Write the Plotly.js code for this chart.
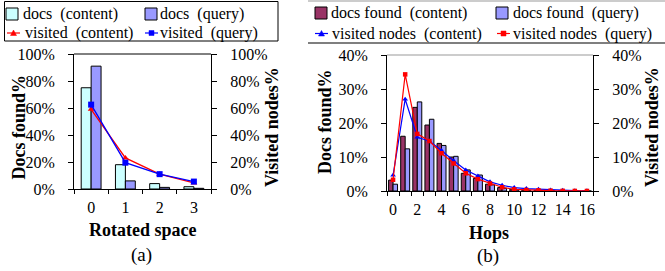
<!DOCTYPE html>
<html><head><meta charset="utf-8">
<script src="https://cdn.plot.ly/plotly-3.0.1.min.js"></script>
<style>html,body{margin:0;padding:0;background:#fff;} #chart{width:665px;height:271px;}</style>
</head><body><div id="chart"></div>
<script>
// ---------- Data: (a) rotated space ----------
const rotatedSpace = [0, 1, 2, 3];
const docsContentA = [75, 18, 4, 1.7];
const docsQueryA = [91, 6, 1.2, 0.5];
const visitedContentA = [59, 23, 11, 4.5];
const visitedQueryA = [62.5, 19.5, 11, 5.5];

// ---------- Data: (b) hops ----------
const hops = [0, 1, 2, 3, 4, 5, 6, 7, 8, 9, 10, 11, 12, 13, 14, 15, 16];
const docsFoundContentB = [3.2, 16.1, 24.6, 19.4, 14.0, 10.0, 5.2, 3.7, 2.0, 1.0, 0.5, 0.3, 0.2, 0.1, 0.05, 0.03, 0.02];
const docsFoundQueryB = [2.0, 12.4, 26.2, 21.1, 13.4, 10.2, 6.2, 4.7, 1.8, 0.8, 0.3, 0.2, 0.1, 0.05, 0.03, 0.02, 0.01];
const visitedNodesContentB = [4.6, 27.0, 15.8, 14.7, 11.9, 8.9, 6.2, 4.4, 2.7, 1.7, 1.0, 0.7, 0.5, 0.3, 0.2, 0.1, 0.05];
const visitedNodesQueryB = [3.3, 34.3, 16.8, 14.7, 11.1, 8.1, 5.2, 3.5, 2.2, 1.1, 0.5, 0.3, 0.2, 0.1, 0.05, 0.02, 0.01];
const hopTickVals = [0, 2, 4, 6, 8, 10, 12, 14, 16];

// ---------- Labels ----------
const namesA = ['docs\u00a0 (content)', 'docs\u00a0 (query)', 'visited\u00a0 (content)', 'visited\u00a0 (query)'];
const namesB = ['docs found\u00a0 (content)', 'docs found\u00a0 (query)', 'visited nodes\u00a0 (content)', 'visited nodes\u00a0 (query)'];

// ---------- Geometry helpers (pixels -> paper) ----------
const W = 665, H = 271, M = {l: 74, r: 72, t: 54, b: 80};
const GW = W - M.l - M.r, GH = H - M.t - M.b;
const px = p => (p - M.l) / GW;
const py = p => (H - M.b - p) / GH;
const FONT = 'Liberation Serif, "Times New Roman", serif';
const tickFont = {family: FONT, size: 16, color: '#000'};

const C = {cyan: '#ccffff', lav: '#9999ff', maroon: '#993366', red: '#ff0000', blue: '#0000ff'};
const edge = {color: '#000', width: 1};

const boundaries = arr => arr.map(v => v - 0.5).concat([arr[arr.length - 1] + 0.5]);

const traces = [
  {type: 'bar', name: namesA[0], x: rotatedSpace, y: docsContentA, xaxis: 'x', yaxis: 'y',
   width: 0.29, offset: -0.29, marker: {color: C.cyan, line: edge}},
  {type: 'bar', name: namesA[1], x: rotatedSpace, y: docsQueryA, xaxis: 'x', yaxis: 'y',
   width: 0.29, offset: 0, marker: {color: C.lav, line: edge}},
  {type: 'scatter', mode: 'lines+markers', name: namesA[2], x: rotatedSpace, y: visitedContentA, xaxis: 'x', yaxis: 'y2',
   line: {color: C.red, width: 1.3}, marker: {symbol: 'triangle-up', size: 6, color: C.red}},
  {type: 'scatter', mode: 'lines+markers', name: namesA[3], x: rotatedSpace, y: visitedQueryA, xaxis: 'x', yaxis: 'y2',
   line: {color: C.blue, width: 1.3}, marker: {symbol: 'square', size: 6, color: C.blue}},

  {type: 'bar', name: namesB[0], x: hops, y: docsFoundContentB, xaxis: 'x2', yaxis: 'y3',
   width: 0.37, offset: -0.37, marker: {color: C.maroon, line: edge}},
  {type: 'bar', name: namesB[1], x: hops, y: docsFoundQueryB, xaxis: 'x2', yaxis: 'y3',
   width: 0.37, offset: 0, marker: {color: C.lav, line: edge}},
  {type: 'scatter', mode: 'lines+markers', name: namesB[2], x: hops, y: visitedNodesContentB, xaxis: 'x2', yaxis: 'y4',
   line: {color: C.blue, width: 1.2}, marker: {symbol: 'triangle-up', size: 5, color: C.blue}},
  {type: 'scatter', mode: 'lines+markers', name: namesB[3], x: hops, y: visitedNodesQueryB, xaxis: 'x2', yaxis: 'y4',
   line: {color: C.red, width: 1.2}, marker: {symbol: 'square', size: 4.5, color: C.red}}
];

const xBase = {
  showline: true, linecolor: '#000', linewidth: 1, showgrid: false, zeroline: false,
  ticks: 'outside', ticklen: 4, tickcolor: 'rgba(0,0,0,0)', tickfont: tickFont, ticklabelstandoff: 0,
  fixedrange: true
};
const yBase = {
  showline: true, linecolor: '#000', linewidth: 1, showgrid: false, zeroline: false,
  ticks: 'outside', ticklen: 5, tickcolor: '#000', tickfont: tickFont, ticksuffix: '%',
  ticklabelstandoff: 10, fixedrange: true
};
// tick-only overlay axes (give the crossing tick marks their inner half)
const innerX = (over, anchor, range, vals) => ({overlaying: over, anchor: anchor, range: range, side: 'bottom',
  showline: false, showgrid: false, zeroline: false, showticklabels: false, tickmode: 'array', tickvals: vals,
  ticks: 'inside', ticklen: 4, tickcolor: '#000', fixedrange: true});
const innerY = (over, anchor, range, dt) => ({overlaying: over, anchor: anchor, range: range, side: 'right',
  showline: false, showgrid: false, zeroline: false, showticklabels: false, dtick: dt,
  ticks: 'inside', ticklen: 4, tickcolor: '#000', fixedrange: true});

const layout = {
  width: W, height: H, margin: {l: M.l, r: M.r, t: M.t, b: M.b, autoexpand: false},
  paper_bgcolor: '#fff', plot_bgcolor: 'rgba(0,0,0,0)',
  showlegend: false, barmode: 'overlay', hovermode: false,
  font: {family: FONT, color: '#000'},
  xaxis: Object.assign({}, xBase, {domain: [0, px(211)], anchor: 'y', range: [-0.5, 3.5],
    tickvals: rotatedSpace,
    minor: {tickmode: 'array', tickvals: boundaries(rotatedSpace), ticks: 'outside', ticklen: 4, tickcolor: '#000', tickwidth: 1}}),
  yaxis: Object.assign({}, yBase, {domain: [py(189), 1], anchor: 'x', range: [0, 100], dtick: 20}),
  yaxis2: Object.assign({}, yBase, {overlaying: 'y', side: 'right', anchor: 'x', range: [0, 100], dtick: 20}),
  xaxis2: Object.assign({}, xBase, {domain: [px(387), 1], anchor: 'y3', range: [-0.5, 16.5],
    tickvals: hopTickVals,
    minor: {tickmode: 'array', tickvals: boundaries(hops), ticks: 'outside', ticklen: 4, tickcolor: '#000', tickwidth: 1}}),
  yaxis3: Object.assign({}, yBase, {domain: [0, py(55)], anchor: 'x2', range: [0, 40], dtick: 10}),
  yaxis4: Object.assign({}, yBase, {overlaying: 'y3', side: 'right', anchor: 'x2', range: [0, 40], dtick: 10}),
  xaxis3: innerX('x', 'y', [-0.5, 3.5], boundaries(rotatedSpace)),
  xaxis4: innerX('x2', 'y3', [-0.5, 16.5], boundaries(hops)),
  yaxis5: innerY('y', 'x', [0, 100], 20),
  yaxis6: innerY('y3', 'x2', [0, 40], 10)
};

// ---------- frame lines ----------
const shapes = [
  {type: 'line', xref: 'x domain', yref: 'y domain', x0: 0, x1: 1, y0: 1, y1: 1, line: {color: '#000', width: 1}},
  {type: 'line', xref: 'x2 domain', yref: 'y3 domain', x0: 0, x1: 1, y0: 1, y1: 1, line: {color: '#999', width: 1}},
  // legend (a) box
  {type: 'rect', xref: 'paper', yref: 'paper', x0: px(4.5), x1: px(278), y0: py(41), y1: py(1.5), line: {color: '#000', width: 1}},
  // legend (b) rules
  {type: 'line', xref: 'paper', yref: 'paper', x0: px(308), x1: px(665), y0: py(1), y1: py(1), line: {color: '#999', width: 1}},
  {type: 'line', xref: 'paper', yref: 'paper', x0: px(308), x1: px(665), y0: py(43), y1: py(43), line: {color: '#555', width: 1.5}}
];

// ---------- legends (layout: symbol x, row y, text x) ----------
const legendItems = [
  {name: namesA[0], kind: 'bar', fill: C.cyan, sx: 6, sy: 14, tx: 22},
  {name: namesA[1], kind: 'bar', fill: C.lav, sx: 145, sy: 14, tx: 159},
  {name: namesA[2], kind: 'line', color: C.red, sym: 'tri', sx: 7, sy: 33, tx: 24},
  {name: namesA[3], kind: 'line', color: C.blue, sym: 'sq', sx: 145, sy: 33, tx: 159},
  {name: namesB[0], kind: 'bar', fill: C.maroon, sx: 315, sy: 13, tx: 330},
  {name: namesB[1], kind: 'bar', fill: C.lav, sx: 496, sy: 13, tx: 512},
  {name: namesB[2], kind: 'line', color: C.blue, sym: 'tri', sx: 315, sy: 33.5, tx: 331},
  {name: namesB[3], kind: 'line', color: C.red, sym: 'sq', sx: 497, sy: 33.5, tx: 512}
];
const annotations = [];
legendItems.forEach(it => {
  if (it.kind === 'bar') {
    shapes.push({type: 'rect', xref: 'paper', yref: 'paper', x0: px(it.sx), x1: px(it.sx + 12), y0: py(it.sy + 6), y1: py(it.sy - 6),
      fillcolor: it.fill, line: {color: '#000', width: 1}});
  } else {
    shapes.push({type: 'line', xref: 'paper', yref: 'paper', x0: px(it.sx), x1: px(it.sx + 13), y0: py(it.sy), y1: py(it.sy),
      line: {color: it.color, width: 1.2}});
    const cx = it.sx + 6.5, cy = it.sy;
    const pts = it.sym === 'tri'
      ? [[cx, cy - 3], [cx - 3, cy + 2.5], [cx + 3, cy + 2.5]]
      : [[cx - 2.5, cy - 2.5], [cx + 2.5, cy - 2.5], [cx + 2.5, cy + 2.5], [cx - 2.5, cy + 2.5]];
    const path = 'M' + pts.map(p => px(p[0]) + ',' + py(p[1])).join('L') + 'Z';
    shapes.push({type: 'path', xref: 'paper', yref: 'paper', path: path, fillcolor: it.color, line: {color: it.color, width: 0.5}});
  }
  annotations.push({xref: 'paper', yref: 'paper', x: px(it.tx), y: py(it.sy), xanchor: 'left', yanchor: 'middle',
    text: it.name, showarrow: false, font: {family: FONT, size: 16, color: '#000'}, borderpad: 0});
});

// ---------- axis titles & captions ----------
const titleFont = {family: FONT, size: 18, color: '#000', weight: 'bold'};
const capFont = {family: FONT, size: 19, color: '#000'};
[
  {text: 'Docs found%', x: 18.5, y: 127, rot: -90, font: titleFont},
  {text: 'Visited nodes%', x: 272, y: 127, rot: -90, font: titleFont},
  {text: 'Docs found%', x: 325, y: 122, rot: -90, font: titleFont},
  {text: 'Visited nodes%', x: 652, y: 127, rot: -90, font: titleFont},
  {text: 'Rotated space', x: 142.5, y: 230, rot: 0, font: titleFont},
  {text: '(a)', x: 141, y: 255, rot: 0, font: capFont},
  {text: 'Hops', x: 489, y: 233, rot: 0, font: titleFont},
  {text: '(b)', x: 488, y: 256, rot: 0, font: capFont}
].forEach(a => annotations.push({xref: 'paper', yref: 'paper', x: px(a.x), y: py(a.y), xanchor: 'center', yanchor: 'middle',
  text: a.text, textangle: a.rot, showarrow: false, font: a.font}));

layout.shapes = shapes;
layout.annotations = annotations;

Plotly.newPlot('chart', traces, layout, {staticPlot: true, displayModeBar: false});
</script>
</body></html>
